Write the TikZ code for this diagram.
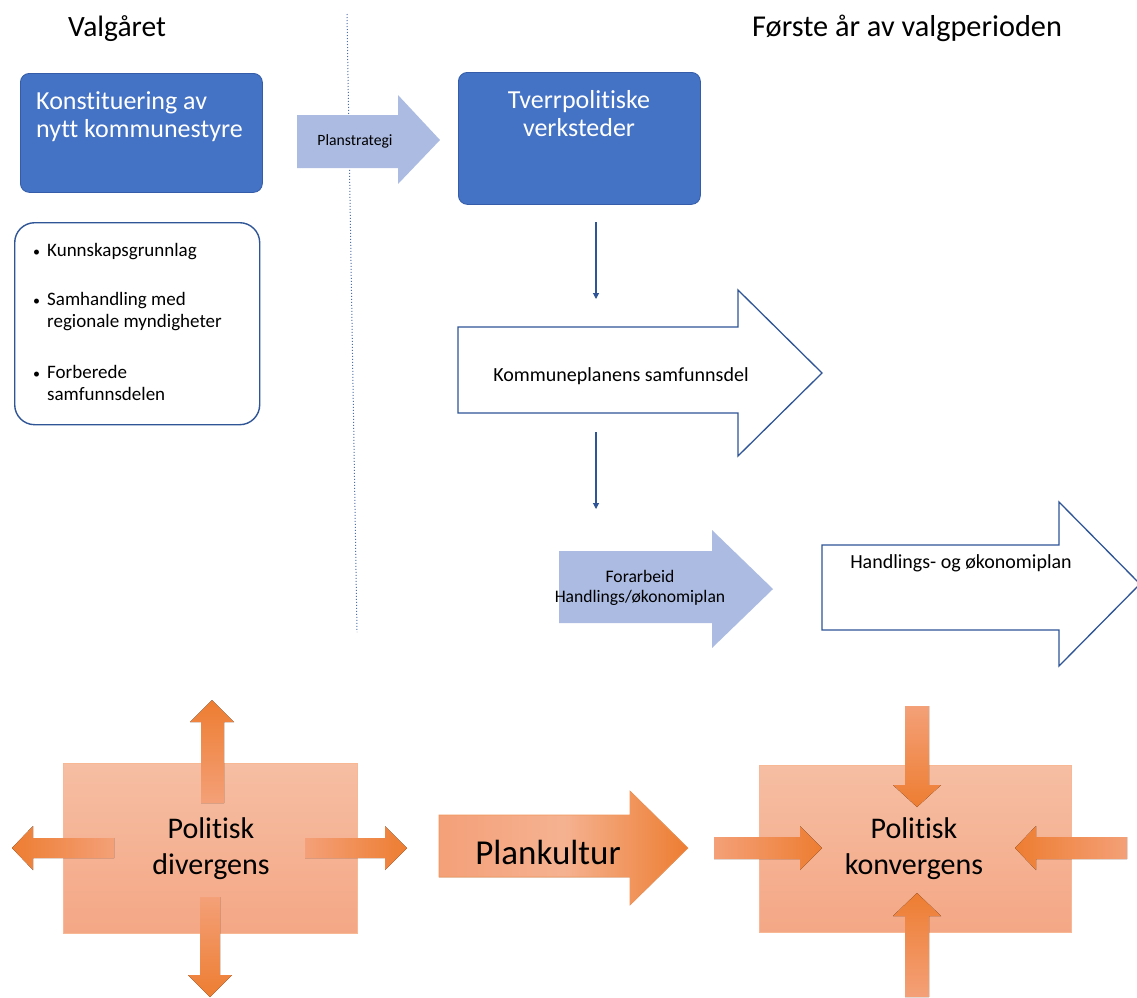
\documentclass[tikz,border=0pt]{standalone}
\usepackage{fontspec}
\setmainfont{Carlito}[Ligatures=NoCommon]
\usetikzlibrary{arrows.meta}
\definecolor{boxblue}{RGB}{68,114,196}
\definecolor{boxedge}{RGB}{52,92,168}
\definecolor{lightblue}{RGB}{172,187,226}
\definecolor{lineblue}{RGB}{47,85,151}
\definecolor{rectTop}{RGB}{246,190,163}
\definecolor{rectBot}{RGB}{244,167,133}
\definecolor{orDark}{RGB}{237,125,49}
\definecolor{orLight}{RGB}{245,178,145}
\definecolor{orMid}{RGB}{244,160,120}
\newcommand{\lbul}{\llap{{\fontsize{14}{14}\selectfont•}\hspace{7pt}}}
\tikzset{
  bluebox/.style={draw=boxedge, line width=0.8pt, fill=boxblue, rounded corners=9pt},
  listbox/.style={draw=lineblue, line width=1.4pt, fill=white, rounded corners=20pt},
  txt/.style={inner sep=0pt, text=black},
  wtxt/.style={inner sep=0pt, text=white},
  lbarrow/.style={fill=lightblue},
  outarrow/.style={draw=lineblue, line width=1.3pt, fill=white, line join=miter},
  conn/.style={draw=lineblue, line width=1.1pt, -{Triangle[length=6pt,width=6pt]}},
  orrect/.style={top color=rectTop, bottom color=rectBot, draw=rectTop!90!orange, line width=0.6pt},
  fbig/.style={font={\fontsize{26}{28}\selectfont}},
  flist/.style={font={\fontsize{19}{22}\selectfont}},
  fpol/.style={font={\fontsize{30}{36}\selectfont}},
}
\begin{document}
\begin{tikzpicture}[x=1pt,y=-1pt]
\useasboundingbox (0,0) rectangle (1137,997);
\fill[white] (0,0) rectangle (1137,997);

% titles
\node[txt, anchor=base west, font={\fontsize{29.5}{32}\selectfont}] (t1) at (68,36) {Valgåret};
\node[txt, anchor=base west, font={\fontsize{30.3}{32}\selectfont}] (t2) at (752,36) {Første år av valgperioden};

% dotted divider
\coordinate (d1) at (347,14);
\coordinate (d2) at (357,632);
\draw[lineblue!85, line width=1pt, dotted] (d1) -- (d2);

% top-left box
\node[bluebox, minimum width=242pt, minimum height=119pt, anchor=north west] (konst) at (20,73) {};
\node[wtxt, fbig, anchor=north west, align=left] (konsttxt) at (36,91) {Konstituering av\\nytt kommunestyre};

% list box
\node[listbox, minimum width=245pt, minimum height=202pt, anchor=north west] (list) at (14,222) {};
\node[txt, flist, anchor=north west, align=left] (li1) at (47,243) {\lbul Kunnskapsgrunnlag};
\node[txt, flist, anchor=north west, align=left] (li2) at (47,292) {\lbul Samhandling med\\regionale myndigheter};
\node[txt, flist, anchor=north west, align=left] (li3) at (47,365) {\lbul Forberede\\samfunnsdelen};

% Planstrategi arrow
\fill[lbarrow] (297,115) -- (398,115) -- (398,95) -- (440,140) -- (398,184) -- (398,168) -- (297,168) -- cycle;
\node[txt, font={\fontsize{15.7}{17}\selectfont}] (plan) at (355,141) {Planstrategi};

% Tverrpolitiske
\node[bluebox, minimum width=242pt, minimum height=132pt, anchor=north west] (tv) at (458,72) {};
\node[wtxt, fbig, anchor=north, align=center] (tvtxt) at (579,90) {Tverrpolitiske\\verksteder};

% Kommuneplanens samfunnsdel
\draw[outarrow] (458,327) -- (738,327) -- (738,290) -- (822,373) -- (738,456) -- (738,413) -- (458,413) -- cycle;
\node[txt, font={\fontsize{20}{22}\selectfont}] (kp) at (621,376) {Kommuneplanens samfunnsdel};

% Forarbeid
\fill[lbarrow] (559,551) -- (712,551) -- (712,530) -- (773,589) -- (712,648) -- (712,623) -- (559,623) -- cycle;
\node[txt, align=center, font={\fontsize{17.6}{19.5}\selectfont}] (fa) at (640,588) {Forarbeid\\Handlings/økonomiplan};

% Handlings- og økonomiplan
\draw[outarrow] (822,545) -- (1059,545) -- (1059,502) -- (1140,584) -- (1059,666) -- (1059,630) -- (822,630) -- cycle;
\node[txt, font={\fontsize{20}{22}\selectfont}] (ho) at (961,563) {Handlings- og økonomiplan};

% small connectors
\coordinate (c1a) at (596,222);
\coordinate (c1b) at (596,299);
\coordinate (c2a) at (596,432);
\coordinate (c2b) at (596,509);
\draw[conn] (c1a) -- (c1b);
\draw[conn] (c2a) -- (c2b);

% ---- bottom: divergens ----
\node[orrect, minimum width=294pt, minimum height=170pt, anchor=north west] (div) at (63,763) {};
% up
\fill[top color=orDark, bottom color=orMid] (201,803) -- (201,722) -- (190,722) -- (212,700) -- (234,722) -- (224,722) -- (224,803) -- cycle;
% down
\fill[top color=orMid, bottom color=orDark] (200,897) -- (220,897) -- (220,975) -- (232,975) -- (210,997) -- (188,975) -- (200,975) -- cycle;
% left
\fill[left color=orDark, right color=orMid] (114,838) -- (33,838) -- (33,826) -- (12,848) -- (33,870) -- (33,858) -- (114,858) -- cycle;
% right
\fill[left color=orMid, right color=orDark] (305,838) -- (385,838) -- (385,826) -- (407,848) -- (385,870) -- (385,858) -- (305,858) -- cycle;
\node[txt, fpol, align=center] (divtxt) at (211,849) {Politisk\\divergens};

% Plankultur
\fill[left color=orMid, right color=orDark, middle color=orLight] (439,815) -- (630,815) -- (630,791) -- (688,848) -- (630,905) -- (630,877) -- (439,877) -- cycle;
\draw[orDark!80!white, line width=0.6pt] (439,815) -- (630,815) -- (630,791) -- (688,848) -- (630,905) -- (630,877) -- (439,877) -- cycle;
\node[txt, font={\fontsize{35}{40}\selectfont}] (pk) at (548,852) {Plankultur};

% ---- konvergens ----
\node[orrect, minimum width=312pt, minimum height=167pt, anchor=north west] (konv) at (759,765) {};
% from top
\fill[top color=orMid, bottom color=orDark] (905,706) -- (929,706) -- (929,785) -- (941,785) -- (917,807) -- (893,785) -- (905,785) -- cycle;
% from bottom
\fill[top color=orDark, bottom color=orMid] (905,997) -- (905,916) -- (893,916) -- (917,893) -- (941,916) -- (929,916) -- (929,997) -- cycle;
% from left
\fill[left color=orMid, right color=orDark] (714,837) -- (800,837) -- (800,826) -- (822,848) -- (800,870) -- (800,859) -- (714,859) -- cycle;
% from right
\fill[left color=orDark, right color=orMid] (1127,837) -- (1036,837) -- (1036,826) -- (1015,848) -- (1036,870) -- (1036,859) -- (1127,859) -- cycle;
\node[txt, fpol, align=center] (konvtxt) at (914,849) {Politisk\\konvergens};
\end{tikzpicture}
\end{document}
